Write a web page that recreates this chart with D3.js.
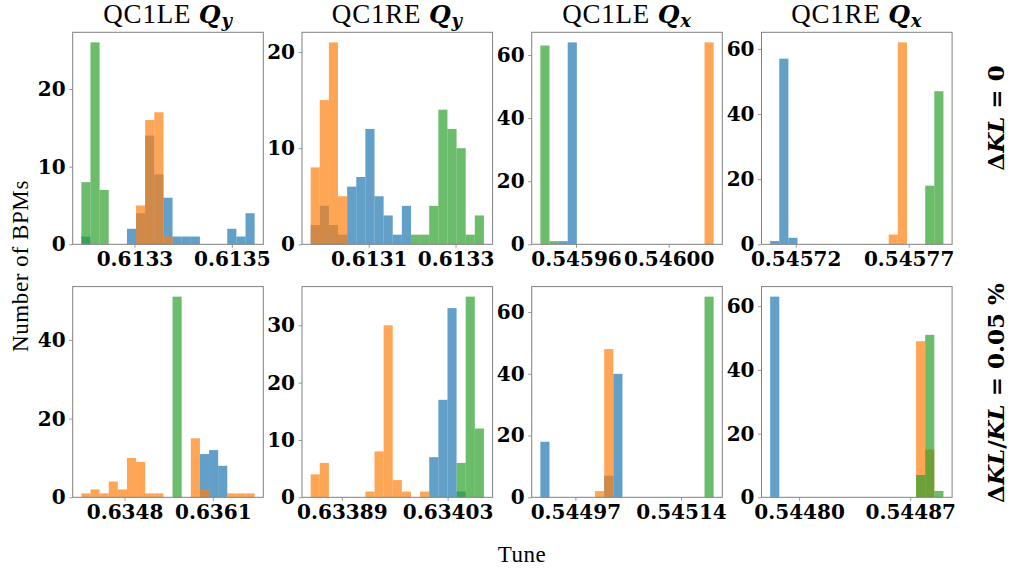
<!DOCTYPE html>
<html>
<head>
<meta charset="utf-8">
<script src="https://cdn.jsdelivr.net/npm/d3@7"></script>
<style>
  body { margin: 0; background: #fff; }
  svg { display: block; }
</style>
</head>
<body>
<svg id="chart" width="1011" height="571"></svg>
<script>
// Every histogram uses 19 equal-width bins between the given lower and upper edge.
const binCount = 19;

// ---- Row 1: ΔKL = 0 ----
const leQyKL0Edges  = [0.6131910, 0.6135468];
const leQyKL0Blue   = [1,0,0,0,0,2,4,14,9,6,1,1,1,0,0,0,2,1,4];
const leQyKL0Orange = [0,0,0,0,0,0,5,16,17,1,0,0,0,0,0,0,0,0,0];
const leQyKL0Green  = [8,26,7,0,0,0,0,0,0,0,0,0,0,0,0,0,0,0,0];
const leQyKL0XTicks = ["0.6133", "0.6135"];
const leQyKL0YTicks = [0, 10, 20];

const reQyKL0Edges  = [0.6129663, 0.6133654];
const reQyKL0Blue   = [2,4,2,1,6,7,12,5,3,1,4,0,0,0,0,0,0,0,0];
const reQyKL0Orange = [8,15,21,5,0,0,0,0,0,0,0,0,0,0,0,0,0,0,0];
const reQyKL0Green  = [0,0,0,0,0,0,0,0,0,0,0,1,1,4,14,12,10,1,3];
const reQyKL0XTicks = ["0.6131", "0.6133"];
const reQyKL0YTicks = [0, 10, 20];

const leQxKL0Edges  = [0.5459446, 0.5460194];
const leQxKL0Blue   = [0,0,1,64,0,0,0,0,0,0,0,0,0,0,0,0,0,0,0];
const leQxKL0Orange = [0,0,0,0,0,0,0,0,0,0,0,0,0,0,0,0,0,0,64];
const leQxKL0Green  = [63,1,0,0,0,0,0,0,0,0,0,0,0,0,0,0,0,0,0];
const leQxKL0XTicks = ["0.54596", "0.54600"];
const leQxKL0YTicks = [0, 20, 40, 60];

const reQxKL0Edges  = [0.5457087, 0.5457854];
const reQxKL0Blue   = [1,57,2,0,0,0,0,0,0,0,0,0,0,0,0,0,0,0,0];
const reQxKL0Orange = [0,0,0,0,0,0,0,0,0,0,0,0,0,3,62,0,0,0,0];
const reQxKL0Green  = [0,0,0,0,0,0,0,0,0,0,0,0,0,0,0,0,0,18,47];
const reQxKL0XTicks = ["0.54572", "0.54577"];
const reQxKL0YTicks = [0, 20, 40, 60];

// ---- Row 2: ΔKL/KL = 0.05 % ----
const leQyKL5Edges  = [0.6341640, 0.6367155];
const leQyKL5Blue   = [0,0,0,0,0,0,0,0,0,0,0,0,0,11,12,8,0,0,0];
const leQyKL5Orange = [1,2,1,4,2,10,9,1,1,0,0,0,15,2,0,0,1,1,1];
const leQyKL5Green  = [0,0,0,0,0,0,0,0,0,0,51,0,0,0,0,0,0,0,0];
const leQyKL5XTicks = ["0.6348", "0.6361"];
const leQyKL5YTicks = [0, 20, 40];

const reQyKL5Edges  = [0.6338487, 0.6340781];
const reQyKL5Blue   = [0,0,0,0,0,0,0,0,0,0,0,0,0,7,17,33,1,0,0];
const reQyKL5Orange = [4,6,0,0,0,0,1,8,30,3,1,0,1,0,0,0,0,0,0];
const reQyKL5Green  = [0,0,0,0,0,0,0,0,0,0,0,0,0,0,0,0,6,35,12];
const reQyKL5XTicks = ["0.63389", "0.63403"];
const reQyKL5YTicks = [0, 10, 20, 30];

const leQxKL5Edges  = [0.5449137, 0.5451924];
const leQxKL5Blue   = [18,0,0,0,0,0,0,7,40,0,0,0,0,0,0,0,0,0,0];
const leQxKL5Orange = [0,0,0,0,0,0,2,48,0,0,0,0,0,0,0,0,0,0,0];
const leQxKL5Green  = [0,0,0,0,0,0,0,0,0,0,0,0,0,0,0,0,0,0,65];
const leQxKL5XTicks = ["0.54497", "0.54514"];
const leQxKL5YTicks = [0, 20, 40, 60];

const reQxKL5Edges  = [0.5447818, 0.5448909];
const reQxKL5Blue   = [63,0,0,0,0,0,0,0,0,0,0,0,0,0,0,0,0,0,0];
const reQxKL5Orange = [0,0,0,0,0,0,0,0,0,0,0,0,0,0,0,0,49,15,0];
const reQxKL5Green  = [0,0,0,0,0,0,0,0,0,0,0,0,0,0,0,0,7,51,2];
const reQxKL5XTicks = ["0.54480", "0.54487"];
const reQxKL5YTicks = [0, 20, 40, 60];

// Panel table assembled from the arrays above
const panels = [
  { row: 0, col: 0, station: "QC1LE", plane: "y", edges: leQyKL0Edges, blue: leQyKL0Blue, orange: leQyKL0Orange, green: leQyKL0Green, xTicks: leQyKL0XTicks, yTicks: leQyKL0YTicks },
  { row: 0, col: 1, station: "QC1RE", plane: "y", edges: reQyKL0Edges, blue: reQyKL0Blue, orange: reQyKL0Orange, green: reQyKL0Green, xTicks: reQyKL0XTicks, yTicks: reQyKL0YTicks },
  { row: 0, col: 2, station: "QC1LE", plane: "x", edges: leQxKL0Edges, blue: leQxKL0Blue, orange: leQxKL0Orange, green: leQxKL0Green, xTicks: leQxKL0XTicks, yTicks: leQxKL0YTicks },
  { row: 0, col: 3, station: "QC1RE", plane: "x", edges: reQxKL0Edges, blue: reQxKL0Blue, orange: reQxKL0Orange, green: reQxKL0Green, xTicks: reQxKL0XTicks, yTicks: reQxKL0YTicks },
  { row: 1, col: 0, station: "QC1LE", plane: "y", edges: leQyKL5Edges, blue: leQyKL5Blue, orange: leQyKL5Orange, green: leQyKL5Green, xTicks: leQyKL5XTicks, yTicks: leQyKL5YTicks },
  { row: 1, col: 1, station: "QC1RE", plane: "y", edges: reQyKL5Edges, blue: reQyKL5Blue, orange: reQyKL5Orange, green: reQyKL5Green, xTicks: reQyKL5XTicks, yTicks: reQyKL5YTicks },
  { row: 1, col: 2, station: "QC1LE", plane: "x", edges: leQxKL5Edges, blue: leQxKL5Blue, orange: leQxKL5Orange, green: leQxKL5Green, xTicks: leQxKL5XTicks, yTicks: leQxKL5YTicks },
  { row: 1, col: 3, station: "QC1RE", plane: "x", edges: reQxKL5Edges, blue: reQxKL5Blue, orange: reQxKL5Orange, green: reQxKL5Green, xTicks: reQxKL5XTicks, yTicks: reQxKL5YTicks }
];

// Series drawn in this order, each semi-transparent
const series = [
  { key: "blue",   color: "#1f77b4" },
  { key: "orange", color: "#ff7f0e" },
  { key: "green",  color: "#2ca02c" }
];

// Layout
const colLeft = [72.7, 302.0, 531.7, 761.5];
const panelW = 190.6;
const rowTop = [32.3, 286.6];
const rowBottom = [244.3, 497.3];
const frameColor = "#808080";
const tickFont = "'DejaVu Serif', serif";
const textFont = "'Liberation Serif', 'DejaVu Serif', serif";
const mathFont = "'DejaVu Serif', serif";

const svg = d3.select("#chart");

panels.forEach(p => {
  const x0 = colLeft[p.col], x1 = x0 + panelW;
  const y0 = rowTop[p.row], y1 = rowBottom[p.row];
  const [lo, hi] = p.edges;
  const span = hi - lo;
  const step = span / binCount;

  const x = d3.scaleLinear().domain([lo - 0.05 * span, hi + 0.05 * span]).range([x0, x1]);
  const ymax = d3.max([...p.blue, ...p.orange, ...p.green]);
  const y = d3.scaleLinear().domain([0, ymax * 1.05]).range([y1, y0]);

  const g = svg.append("g");

  series.forEach(s => {
    const bins = p[s.key]
      .map((c, i) => ({ c, a: lo + i * step, b: lo + (i + 1) * step }))
      .filter(d => d.c > 0);
    g.append("g").selectAll("rect").data(bins).join("rect")
      .attr("x", d => x(d.a))
      .attr("width", d => x(d.b) - x(d.a))
      .attr("y", d => y(d.c))
      .attr("height", d => y(0) - y(d.c))
      .attr("fill", s.color)
      .attr("fill-opacity", 0.7);
  });

  // Axes
  const xAxis = d3.axisBottom(x)
    .tickValues(p.xTicks.map(Number))
    .tickFormat((d, i) => p.xTicks[i])
    .tickSize(3.5).tickPadding(3.8);
  const gx = g.append("g").attr("transform", `translate(0,${y1})`).call(xAxis);

  const yAxis = d3.axisLeft(y)
    .tickValues(p.yTicks)
    .tickFormat(d3.format("d"))
    .tickSize(3.5).tickPadding(3.5);
  const gy = g.append("g").attr("transform", `translate(${x0},0)`).call(yAxis);

  [gx, gy].forEach(ax => {
    ax.select(".domain").remove();
    ax.selectAll(".tick line").attr("stroke", frameColor).attr("stroke-width", 0.8);
    ax.selectAll(".tick text")
      .attr("fill", "#000")
      .style("font-family", tickFont)
      .style("font-weight", "bold")
      .style("font-size", "20px");
  });

  // Frame
  g.append("rect")
    .attr("x", x0).attr("y", y0)
    .attr("width", x1 - x0).attr("height", y1 - y0)
    .attr("fill", "none").attr("stroke", frameColor).attr("stroke-width", 1);

  // Column titles on the top row
  if (p.row === 0) {
    const t = svg.append("text")
      .attr("x", (x0 + x1) / 2).attr("y", 22.7)
      .attr("text-anchor", "middle")
      .style("font-family", textFont)
      .style("font-size", "27px")
      .style("letter-spacing", "0.8px");
    t.append("tspan").text(p.station + " ");
    t.append("tspan").style("font-family", mathFont).style("font-weight", "bold").style("font-style", "italic")
      .style("font-size", "25px").text("Q");
    t.append("tspan").attr("dy", "0.25em").style("font-family", mathFont).style("font-weight", "bold")
      .style("font-style", "italic").style("font-size", "18px").text(p.plane);
  }
});

// Shared axis labels
svg.append("text")
  .attr("transform", "translate(28,266) rotate(-90)")
  .attr("text-anchor", "middle")
  .style("font-family", textFont)
  .style("font-size", "23px")
  .style("letter-spacing", "0.6px")
  .text("Number of BPMs");

svg.append("text")
  .attr("x", 522).attr("y", 562)
  .attr("text-anchor", "middle")
  .style("font-family", textFont)
  .style("font-size", "23px")
  .style("letter-spacing", "0.5px")
  .text("Tune");

// Row labels on the right
function rowLabel(cx, cy, parts) {
  const t = svg.append("text")
    .attr("transform", `translate(${cx},${cy}) rotate(-90)`)
    .attr("text-anchor", "middle")
    .style("font-family", mathFont)
    .style("font-weight", "bold")
    .style("font-size", "23px");
  parts.forEach(([txt, italic]) => {
    t.append("tspan").style("font-style", italic ? "italic" : "normal").text(txt);
  });
}
rowLabel(1004, 118, [["Δ", false], ["KL", true], [" = 0", false]]);
rowLabel(1004, 393, [["Δ", false], ["KL", true], ["/", false], ["KL", true], [" = 0.05 %", false]]);
</script>
</body>
</html>
